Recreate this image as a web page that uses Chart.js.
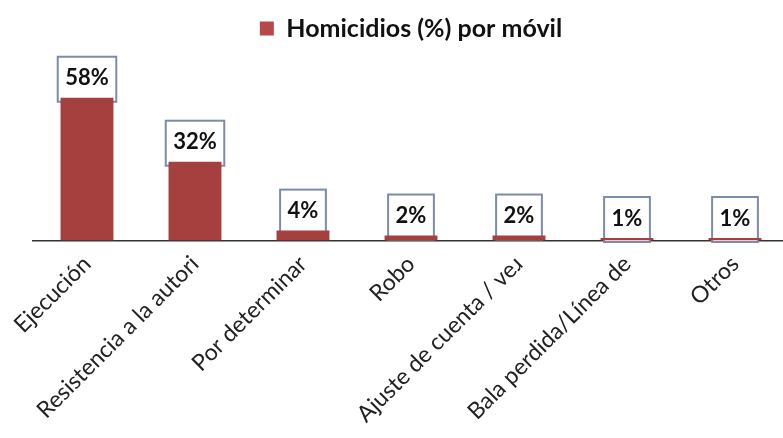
<!DOCTYPE html>
<html>
<head>
<meta charset="utf-8">
<script src="https://cdn.jsdelivr.net/npm/chart.js@4/dist/chart.umd.min.js"></script>
<style>
  html, body { margin: 0; padding: 0; background: #fff; overflow: hidden; }
</style>
</head>
<body>
<canvas id="chart" width="789" height="438"></canvas>
<script>
const categories = [
  "Ejecución",
  "Resistencia a la autori",
  "Por determinar",
  "Robo",
  "Ajuste de cuenta / ve\u0279",
  "Bala perdida/Línea de",
  "Otros",
];
const homicidios = [58, 32, 4, 2, 2, 1, 1];
const seriesLabel = "Homicidios (%) por móvil";

const FONT = "Lato, 'Open Sans', sans-serif";

// white boxes with the value, drawn under the bars like the original
const valueBoxes = {
  id: "valueBoxes",
  beforeDatasetsDraw(chart) {
    const ctx = chart.ctx;
    const meta = chart.getDatasetMeta(0);
    ctx.save();
    ctx.font = "bold 22px " + FONT;
    meta.data.forEach((bar, i) => {
      const txt = homicidios[i] + "%";
      const w = ctx.measureText(txt).width + 15;
      const h = 45;
      const x = bar.x - w / 2;
      const y = bar.y + 4 - h;
      ctx.fillStyle = "#fff";
      ctx.fillRect(x, y, w, h);
      ctx.strokeStyle = "#7b8cab";
      ctx.lineWidth = 2;
      ctx.strokeRect(x, y, w, h);
      ctx.fillStyle = "#111";
      ctx.textAlign = "center";
      ctx.textBaseline = "middle";
      ctx.fillText(txt, bar.x, y + h / 2 - 1);
    });
    ctx.restore();
  },
};

new Chart(document.getElementById("chart").getContext("2d"), {
  type: "bar",
  data: {
    labels: categories,
    datasets: [
      {
        label: seriesLabel,
        data: homicidios,
        backgroundColor: "#a5403e",
        borderColor: "#a5403e",
        borderWidth: 0,
        barPercentage: 0.98,
        categoryPercentage: 0.5,
      },
    ],
  },
  options: {
    responsive: false,
    animation: false,
    layout: { padding: { left: 33, right: 0, top: 4, bottom: 0 } },
    scales: {
      x: {
        grid: { display: false, drawTicks: false },
        border: { display: true, color: "#333", width: 1.5 },
        ticks: {
          minRotation: 45,
          maxRotation: 45,
          autoSkip: false,
          padding: 10,
          color: "#222",
          font: { family: FONT, size: 23 },
        },
      },
      y: {
        display: false,
        min: 0,
        max: 77,
      },
    },
    plugins: {
      legend: {
        position: "top",
        labels: {
          boxWidth: 14,
          boxHeight: 14,
          padding: 12,
          color: "#111",
          font: { family: FONT, size: 25, weight: "bold" },
          generateLabels(chart) {
            const items = Chart.defaults.plugins.legend.labels.generateLabels(chart);
            items.forEach((it) => {
              it.fillStyle = "#b8474a";
              it.strokeStyle = "#b8474a";
            });
            return items;
          },
        },
      },
      tooltip: { enabled: false },
    },
  },
  plugins: [valueBoxes],
});
</script>
</body>
</html>
